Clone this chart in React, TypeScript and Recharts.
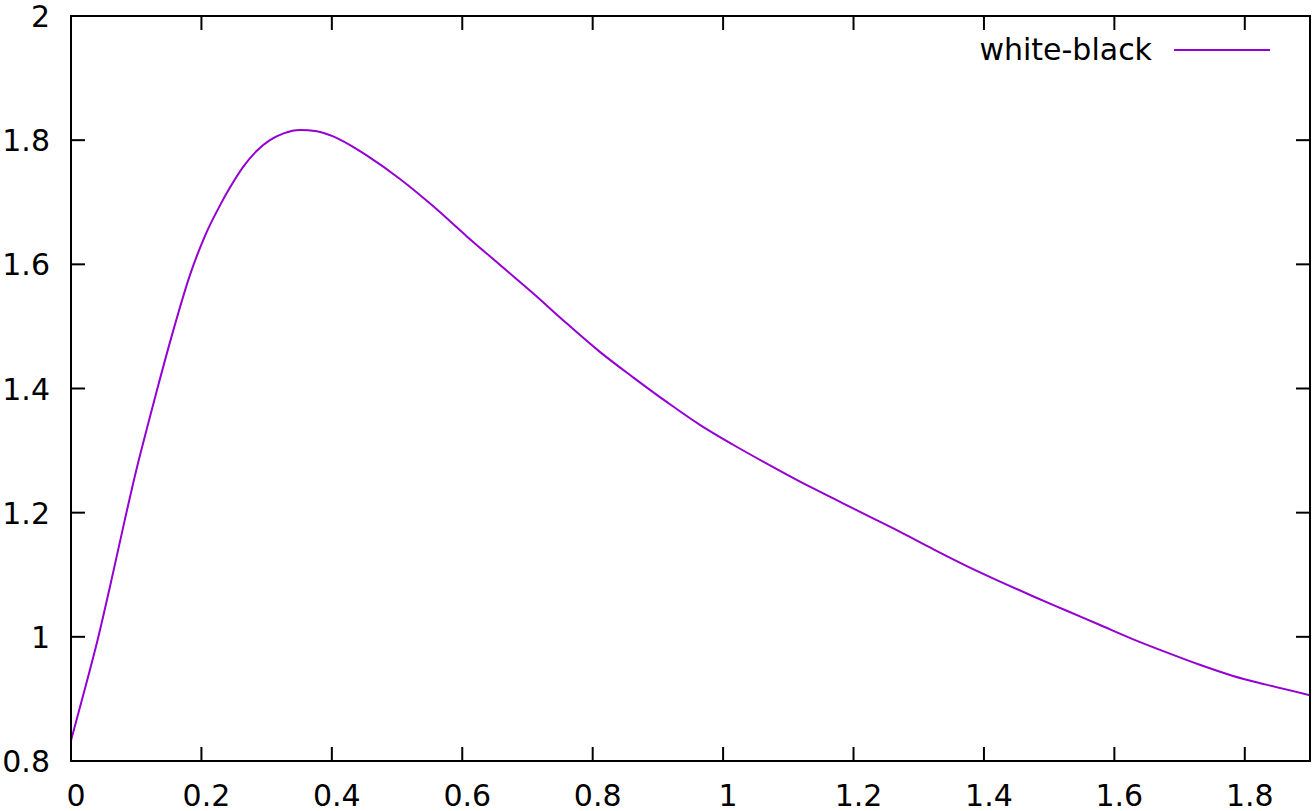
import { LineChart, Line, XAxis, YAxis, Legend } from 'recharts';

// curve
const xValues = [
  0, 0.02, 0.042, 0.06, 0.082, 0.1, 0.12, 0.133, 0.157, 0.1825, 0.2055, 0.2285, 0.244, 0.264,
  0.285, 0.305, 0.326, 0.351, 0.377, 0.402, 0.428, 0.454, 0.505, 0.556, 0.607, 0.658, 0.709,
  0.76, 0.811, 0.862, 0.914, 0.965, 1.016, 1.067, 1.118, 1.169, 1.22, 1.2715, 1.3226, 1.3737,
  1.4248, 1.476, 1.527, 1.578, 1.629, 1.68, 1.731, 1.782, 1.833, 1.9,
];
const whiteBlack = [
  0.833, 0.911, 1.0, 1.082, 1.186, 1.268, 1.35, 1.402, 1.494, 1.583, 1.646, 1.695, 1.724, 1.757,
  1.783, 1.8, 1.811, 1.8165, 1.8145, 1.806, 1.792, 1.775, 1.737, 1.693, 1.645, 1.599, 1.553,
  1.505, 1.459, 1.418, 1.378, 1.341, 1.309, 1.279, 1.25, 1.223, 1.196, 1.169, 1.141, 1.114,
  1.089, 1.065, 1.042, 1.019, 0.996, 0.975, 0.955, 0.937, 0.923, 0.906,
];
const xTicks = [0, 0.2, 0.4, 0.6, 0.8, 1, 1.2, 1.4, 1.6, 1.8];
const yTicks = [0.8, 1, 1.2, 1.4, 1.6, 1.8, 2];

const data = xValues.map((x, i) => ({ x, y: whiteBlack[i] }));

const FONT = 30;
const TICK = 14;
const axisLine = { stroke: '#000', strokeWidth: 2, strokeLinecap: 'square' as const };

const BottomTick = ({ x, y, payload }: any) => (
  <g>
    <line x1={x} y1={y} x2={x} y2={y - TICK} stroke="#000" strokeWidth={2} />
    <text x={x + 5} y={y + 45} textAnchor="middle" fontSize={FONT} fill="#000">
      {payload.value}
    </text>
  </g>
);

const TopTick = ({ x, y }: any) => (
  <line x1={x} y1={y} x2={x} y2={y + TICK} stroke="#000" strokeWidth={2} />
);

const LeftTick = ({ x, y, payload }: any) => (
  <g>
    <line x1={x} y1={y} x2={x + TICK} y2={y} stroke="#000" strokeWidth={2} />
    <text x={x - 21} y={y + 11} textAnchor="end" fontSize={FONT} fill="#000">
      {payload.value}
    </text>
  </g>
);

const RightTick = ({ x, y }: any) => (
  <line x1={x} y1={y} x2={x - TICK} y2={y} stroke="#000" strokeWidth={2} />
);

const KeyBox = ({ payload }: any) => {
  const item = payload && payload.find((p: any) => p.value === 'white-black');
  return (
    <svg width={1314} height={100} style={{ display: 'block' }}>
      <text x={1152} y={60} textAnchor="end" fontSize={FONT} fill="#000">
        {item ? item.value : 'white-black'}
      </text>
      <line x1={1174} y1={50} x2={1270} y2={50} stroke={item ? item.color : '#9400d3'} strokeWidth={2} />
    </svg>
  );
};

export default function App() {
  return (
    <div style={{ width: 1314, height: 811, fontFamily: 'DejaVu Sans' }}>
      <style>{'body{margin:0}'}</style>
      <LineChart
        width={1314}
        height={811}
        data={data}
        margin={{ top: 15, right: 3, bottom: 0, left: 0 }}
        style={{ fontFamily: 'DejaVu Sans' }}
      >
        <XAxis
          dataKey="x"
          type="number"
          domain={[0, 1.9]}
          ticks={xTicks}
          height={50}
          tickSize={0}
          tickMargin={0}
          tickLine={false}
          axisLine={axisLine}
          tick={<BottomTick />}
          interval={0}
          allowDataOverflow
        />
        <XAxis
          xAxisId="top"
          orientation="top"
          dataKey="x"
          type="number"
          domain={[0, 1.9]}
          ticks={xTicks}
          height={1}
          tickSize={0}
          tickMargin={0}
          tickLine={false}
          axisLine={axisLine}
          tick={<TopTick />}
          interval={0}
          allowDataOverflow
        />
        <YAxis
          type="number"
          domain={[0.8, 2]}
          ticks={yTicks}
          width={71}
          tickSize={0}
          tickMargin={0}
          tickLine={false}
          axisLine={axisLine}
          tick={<LeftTick />}
          interval={0}
          allowDataOverflow
        />
        <YAxis
          yAxisId="right"
          orientation="right"
          type="number"
          domain={[0.8, 2]}
          ticks={yTicks}
          width={1}
          tickSize={0}
          tickMargin={0}
          tickLine={false}
          axisLine={axisLine}
          tick={<RightTick />}
          interval={0}
          allowDataOverflow
        />
        <Legend
          layout="vertical"
          align="center"
          verticalAlign="middle"
          wrapperStyle={{ top: 0, left: 0, width: 1314, height: 100 }}
          content={<KeyBox />}
        />
        {/* invisible twin so the mirrored top/right axes get drawn */}
        <Line
          xAxisId="top"
          yAxisId="right"
          dataKey="y"
          name="mirror"
          legendType="none"
          stroke="none"
          dot={false}
          activeDot={false}
          isAnimationActive={false}
        />
        <Line
          dataKey="y"
          name="white-black"
          type="monotone"
          stroke="#9400d3"
          strokeWidth={2}
          dot={false}
          activeDot={false}
          isAnimationActive={false}
        />
      </LineChart>
    </div>
  );
}
